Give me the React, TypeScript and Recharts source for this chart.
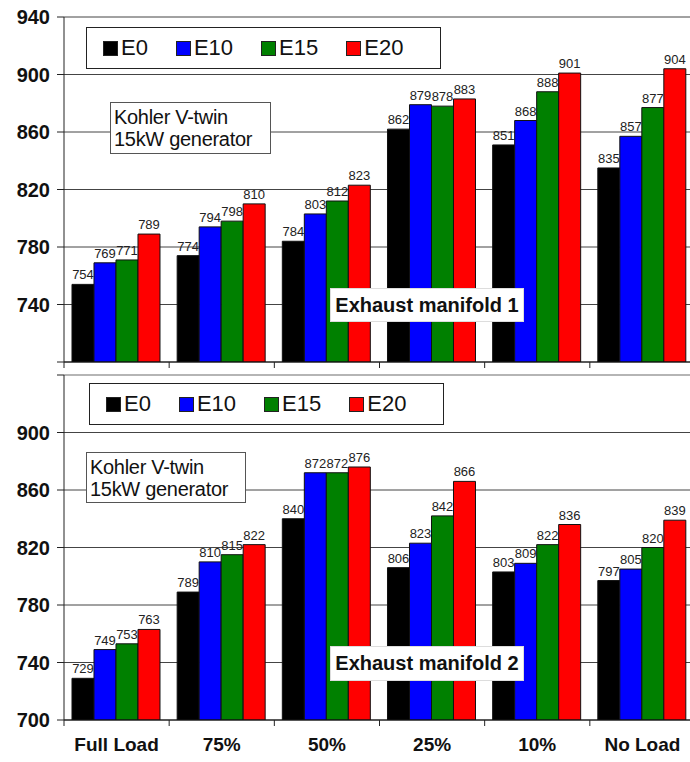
import React from 'react';
import { BarChart, Bar, XAxis, YAxis, CartesianGrid, LabelList, ReferenceLine } from 'recharts';

const CATEGORIES = ['Full Load', '75%', '50%', '25%', '10%', 'No Load'];
const SERIES = ['E0', 'E10', 'E15', 'E20'];
const COLORS = ['#000000', '#0000FF', '#008000', '#FF0000'];
const Y_TICKS = [700, 740, 780, 820, 860, 900, 940];

// Exhaust manifold 1
const M1_E0 = [754, 774, 784, 862, 851, 835];
const M1_E10 = [769, 794, 803, 879, 868, 857];
const M1_E15 = [771, 798, 812, 878, 888, 877];
const M1_E20 = [789, 810, 823, 883, 901, 904];

// Exhaust manifold 2
const M2_E0 = [729, 789, 840, 806, 803, 797];
const M2_E10 = [749, 810, 872, 823, 809, 805];
const M2_E15 = [753, 815, 872, 842, 822, 820];
const M2_E20 = [763, 822, 876, 866, 836, 839];

const FONT = '"Liberation Sans", Arial, sans-serif';
const CHART_W = 700;
const AXIS_X = 64;
const RIGHT = 5;
const BAND = (CHART_W - AXIS_X - RIGHT) / CATEGORIES.length;

const build = (cols: number[][]) =>
  CATEGORIES.map((name, i) => {
    const row: any = { name };
    SERIES.forEach((s, j) => { row[s] = cols[j][i]; });
    return row;
  });

const data1 = build([M1_E0, M1_E10, M1_E15, M1_E20]);
const data2 = build([M2_E0, M2_E10, M2_E15, M2_E20]);

// legend drawn as a plain box so it doesn't eat into the plot area
const LegendBox = ({ left, top }: { left: number; top: number }) => (
  <div style={{
    position: 'absolute', left, top, width: 355, height: 42, boxSizing: 'border-box',
    border: '1px solid #222', background: '#fff',
    display: 'flex', alignItems: 'center', gap: 28, paddingLeft: 16, fontFamily: FONT, fontSize: 22, color: '#111',
  }}>
    {SERIES.map((s, i) => (
      <div key={s} style={{ display: 'flex', alignItems: 'center', gap: 3 }}>
        <div style={{ width: 15, height: 15, background: COLORS[i], border: '1px solid #222', boxSizing: 'border-box' }} />
        <span>{s}</span>
      </div>
    ))}
  </div>
);

function FuelChart({ data, height, marginTop, xHeight, hideY, showX, topLine }: any) {
  const yTick = (p: any) => {
    if (p.payload.value === hideY) return null;
    return (
      <text x={p.x} y={p.y} dy={7} textAnchor="end" fontSize={20} fontWeight="bold" fontFamily={FONT} fill="#111">
        {p.payload.value}
      </text>
    );
  };
  const xTick = (p: any) => (
    <g>
      <line x1={p.x - BAND / 2} x2={p.x - BAND / 2} y1={p.y} y2={p.y + 6} stroke="#222" />
      {showX && (
        <text x={p.x} y={p.y + 31} textAnchor="middle" fontSize={19} fontWeight="bold" fontFamily={FONT} fill="#111">
          {p.payload.value}
        </text>
      )}
    </g>
  );

  return (
    <BarChart width={CHART_W} height={height} data={data} barCategoryGap="7.6%" barGap={0}
      margin={{ top: marginTop, right: RIGHT, left: 0, bottom: 0 }}>
      <CartesianGrid vertical={false} stroke="#444" />
      <XAxis dataKey="name" height={xHeight} tickLine={false} tickSize={0} tickMargin={0} tick={xTick}
        axisLine={{ stroke: '#111' }} interval={0} />
      <YAxis domain={[700, 940]} ticks={Y_TICKS} width={AXIS_X} tickSize={7} tickMargin={7} tick={yTick}
        axisLine={{ stroke: '#222' }} tickLine={{ stroke: '#222' }} allowDataOverflow />
      {topLine && <ReferenceLine y={940} stroke="#b5b5b5" strokeWidth={2} />}
      {SERIES.map((s, i) => (
        <Bar key={s} dataKey={s} fill={COLORS[i]} stroke="#111" strokeWidth={1} isAnimationActive={false}>
          <LabelList dataKey={s} position="top" offset={5} fontSize={13} fill="#222" fontFamily={FONT} />
        </Bar>
      ))}
    </BarChart>
  );
}

const boxStyle: React.CSSProperties = {
  position: 'absolute', background: '#fff', boxSizing: 'border-box', fontFamily: FONT, color: '#111',
};

export default function App() {
  return (
    <div style={{ position: 'absolute', left: 0, top: 0, width: 690, height: 762, overflow: 'hidden', background: '#fff' }}>
      <div style={{ position: 'absolute', left: 0, top: 0 }}>
        <FuelChart data={data1} height={375} marginTop={17} xHeight={13} hideY={700} showX={false} />
      </div>
      <div style={{ position: 'absolute', left: 0, top: 365 }}>
        <FuelChart data={data2} height={397} marginTop={10} xHeight={42} hideY={940} showX topLine />
      </div>

      <LegendBox left={86} top={27} />
      <LegendBox left={89} top={383} />

      <div style={{ ...boxStyle, left: 110, top: 102, width: 161, height: 52, border: '1px solid #555', padding: '3px 3px', fontSize: 20, lineHeight: '22px', letterSpacing: -0.3 }}>
        Kohler V-twin<br />15kW generator
      </div>
      <div style={{ ...boxStyle, left: 86, top: 452, width: 160, height: 51, border: '1px solid #555', padding: '3px 3px', fontSize: 20, lineHeight: '22px', letterSpacing: -0.3 }}>
        Kohler V-twin<br />15kW generator
      </div>

      <div style={{ ...boxStyle, left: 330, top: 288, width: 194, height: 34, border: '1px solid #ddd', fontSize: 20, fontWeight: 'bold', lineHeight: '32px', textAlign: 'center' }}>
        Exhaust manifold 1
      </div>
      <div style={{ ...boxStyle, left: 330, top: 646, width: 194, height: 35, border: '1px solid #ddd', fontSize: 20, fontWeight: 'bold', lineHeight: '33px', textAlign: 'center' }}>
        Exhaust manifold 2
      </div>
    </div>
  );
}
